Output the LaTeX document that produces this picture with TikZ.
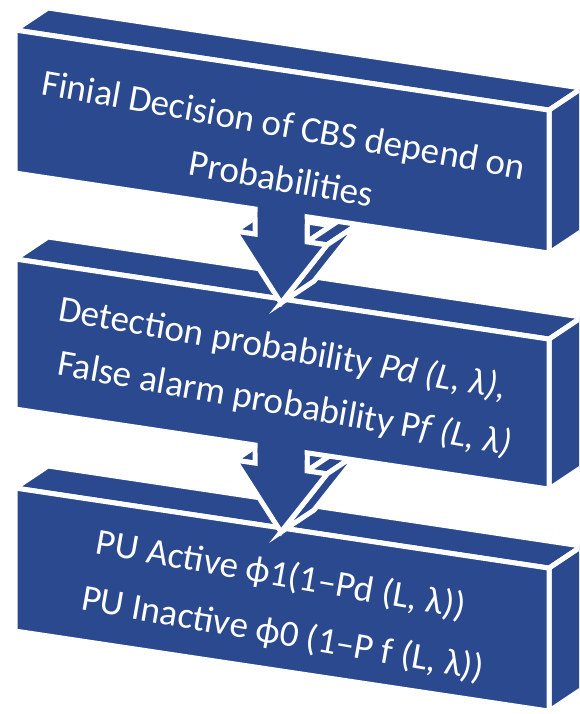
\documentclass[tikz,border=0pt]{standalone}
\usepackage{fontspec}
\setmainfont{Carlito}
\definecolor{slabblue}{RGB}{42,73,143}
\tikzset{
  face/.style={fill=slabblue, draw=white, line width=5pt, line join=miter},
  seam/.style={fill=slabblue, draw=none},
  label/.style={text=white, anchor=base, rotate=-10, inner sep=0pt,
    font=\fontsize{37}{40}\selectfont},
}
\begin{document}
\begin{tikzpicture}[x=1pt,y=-1pt]
\useasboundingbox (0,0) rectangle (579,714);
\clip (0,0) rectangle (579,714);

% ---- third slab ----
\path[face] (15,488) -- (549,568.1) -- (582,546.1) -- (48,466) -- cycle;
\path[face] (549,568.1) -- (582,546.1) -- (582,689.1) -- (549,711.1) -- cycle;
\path[face] (15,488) -- (549,568.1) -- (549,711.1) -- (15,631) -- cycle;

% ---- second arrow ----
\path[face] (235,460.1) -- (255,463.1) -- (288,441.1) -- (268,438.1) -- cycle;
\path[face] (307,451) -- (307,470.9) -- (340,448.9) -- (340,456) -- cycle;
\path[face] (307,470.9) -- (327,473.9) -- (360,451.9) -- (340,448.9) -- cycle;
\path[face] (327,473.9) -- (281,532) -- (314,510) -- (360,451.9) -- cycle;
\path[face] (255,425.1) -- (255,463.1) -- (235,460.1) -- (281,532)
  -- (327,473.9) -- (307,470.9) -- (307,432.9) -- cycle;

% ---- second slab ----
\path[face] (15,259) -- (549,339.1) -- (582,317.1) -- (48,237) -- cycle;
\path[face] (549,339.1) -- (582,317.1) -- (582,467.1) -- (549,489.1) -- cycle;
\path[face] (15,259) -- (549,339.1) -- (549,489.1) -- (15,409) -- cycle;
\path[seam] (257.5,439) -- (304.5,446) -- (304.5,460) -- (257.5,453) -- cycle;

% ---- first arrow ----
\path[face] (235,231.1) -- (255,234.1) -- (288,212.1) -- (268,209.1) -- cycle;
\path[face] (307,222) -- (307,241.9) -- (340,219.9) -- (340,227) -- cycle;
\path[face] (307,241.9) -- (327,244.9) -- (360,222.9) -- (340,219.9) -- cycle;
\path[face] (327,244.9) -- (281,303) -- (314,281) -- (360,222.9) -- cycle;
\path[face] (255,196.1) -- (255,234.1) -- (235,231.1) -- (281,303)
  -- (327,244.9) -- (307,241.9) -- (307,203.9) -- cycle;

% ---- first slab ----
\path[face] (15,30) -- (549,110.1) -- (582,88.1) -- (48,8) -- cycle;
\path[face] (549,110.1) -- (582,88.1) -- (582,231.1) -- (549,253.1) -- cycle;
\path[face] (15,30) -- (549,110.1) -- (549,253.1) -- (15,173) -- cycle;
\path[seam] (257.5,203) -- (304.5,210) -- (304.5,224) -- (257.5,217) -- cycle;

% ---- texts ----
\node[label] (t1a) at (282,137) {Finial Decision of CBS depend on};
\node[label] (t1b) at (279,191) {Probabilities};
\node[label] (t2a) at (281,360) {Detection probability \textit{Pd (L, λ),}};
\node[label] (t2b) at (283,415) {False alarm probability P\textit{f (L, λ)}};
\node[label] (t3a) at (279,586) {PU Active ϕ1(1–Pd (L, λ))};
\node[label] (t3b) at (281,645) {PU Inactive ϕ0 (1–P f (L, λ))};
\end{tikzpicture}
\end{document}
